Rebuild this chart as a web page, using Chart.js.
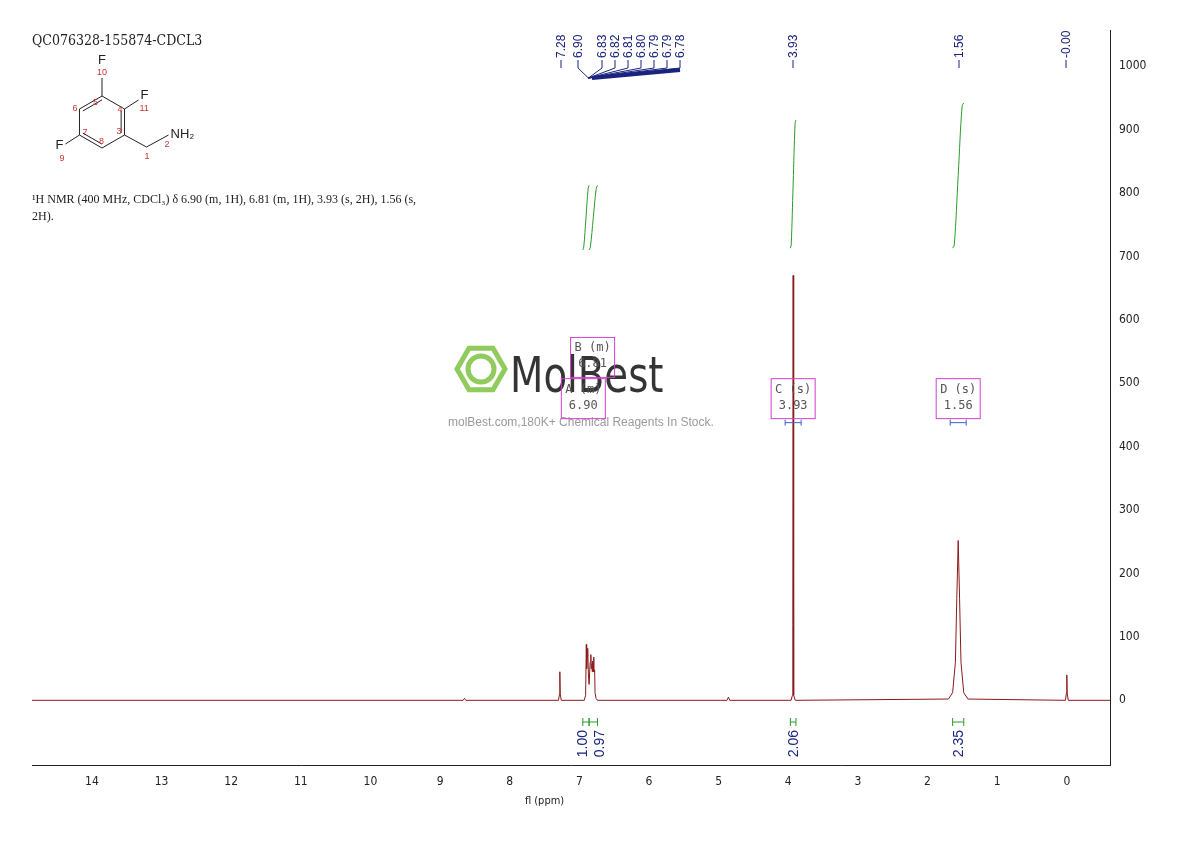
<!DOCTYPE html>
<html><head><meta charset="utf-8">
<script src="https://cdn.jsdelivr.net/npm/chart.js@4.4.0/dist/chart.umd.min.js"></script>
<style>body{margin:0;background:#fff}canvas{display:block}</style>
</head><body>
<canvas id="c" width="1190" height="841"></canvas>
<script>
// spectrum points (ppm, intensity)
const spectrumPpm = [14.86, 8.67, 8.65, 8.63, 7.30, 7.285, 7.28, 7.275, 7.26, 6.93, 6.91, 6.90, 6.895, 6.885, 6.88, 6.87, 6.86, 6.845, 6.835, 6.83, 6.82, 6.815, 6.81, 6.80, 6.795, 6.79, 6.78, 6.775, 6.76, 6.74, 4.88, 4.86, 4.84, 3.96, 3.94, 3.935, 3.93, 3.925, 3.92, 3.90, 1.70, 1.64, 1.60, 1.58, 1.56, 1.54, 1.52, 1.48, 1.42, 0.02, 0.005, 0.0, -0.005, -0.02, -0.62];
const spectrumInt = [0, 0, 3, 0, 0, 10, 45, 10, 0, 0, 8, 88, 50, 70, 82, 40, 25, 60, 72, 50, 58, 45, 62, 55, 68, 45, 48, 12, 3, 0, 0, 5, 0, 0, 8, 120, 670, 120, 8, 0, 2, 12, 60, 160, 252, 160, 60, 12, 2, 0, 12, 40, 12, 0, 0];
const topLabels = ['7.28', '6.90', '6.83', '6.82', '6.81', '6.80', '6.79', '6.79', '6.78', '3.93', '1.56', '-0.00'];
const integrals = [
  {ppm: [6.95, 6.86], y0: 710, y1: 812, label: '1.00'},
  {ppm: [6.86, 6.74], y0: 710, y1: 812, label: '0.97'},
  {ppm: [3.97, 3.89], y0: 713, y1: 915, label: '2.06'},
  {ppm: [1.64, 1.48], y0: 713, y1: 942, label: '2.35'}
];
const multiplets = [
  {ppm: 6.81, name: 'B (m)', val: '6.81', y: 506},
  {ppm: 6.90, name: 'A (m)', val: '6.90', y: 441},
  {ppm: 3.93, name: 'C (s)', val: '3.93', y: 441},
  {ppm: 1.56, name: 'D (s)', val: '1.56', y: 441}
];
const xTicks = [0, 1, 2, 3, 4, 5, 6, 7, 8, 9, 10, 11, 12, 13, 14];
const yTicks = [0, 100, 200, 300, 400, 500, 600, 700, 800, 900, 1000];

const spectrum = spectrumPpm.map((p, i) => ({x: p, y: spectrumInt[i]}));
const intDatasets = integrals.map(g => ({
  data: [{x: g.ppm[0], y: g.y0}, {x: g.ppm[0] - (g.ppm[0]-g.ppm[1])*0.15, y: g.y0 + 5}, {x: (g.ppm[0]+g.ppm[1])/2, y: (g.y0+g.y1)/2}, {x: g.ppm[1] + (g.ppm[0]-g.ppm[1])*0.15, y: g.y1 - 5}, {x: g.ppm[1], y: g.y1}],
  borderColor: '#2a9a2a', borderWidth: 1, pointRadius: 0, tension: 0.4
}));

const deco = {
  id: 'deco',
  afterDraw(chart) {
    const ctx = chart.ctx, xs = chart.scales.x, ys = chart.scales.y;
    ctx.save();
    // header text
    ctx.fillStyle = '#222';
    ctx.font = '14px "DejaVu Serif Condensed", serif';
    ctx.fillText('QC076328-155874-CDCL3', 32, 45);
    ctx.font = '12px "Liberation Serif", serif';
    ctx.fillText('\u00B9H NMR (400 MHz, CDCl\u2083) \u03B4 6.90 (m, 1H), 6.81 (m, 1H), 3.93 (s, 2H), 1.56 (s,', 32, 203);
    ctx.fillText('2H).', 32, 220);
    // structure
    const cx = 102, cy = 122, r = 26;
    const pts = [];
    for (let k = 0; k < 6; k++) { const a = Math.PI/180*(90 + 60*k); pts.push([cx + r*Math.cos(a), cy - r*Math.sin(a)]); }
    ctx.strokeStyle = '#222'; ctx.lineWidth = 1;
    ctx.beginPath(); pts.forEach((p, k) => k ? ctx.lineTo(p[0], p[1]) : ctx.moveTo(p[0], p[1])); ctx.closePath(); ctx.stroke();
    ctx.beginPath();
    [[0,1],[2,3],[4,5]].forEach(([a,b]) => { const f=0.15; const ax=pts[a][0]+(cx-pts[a][0])*f, ay=pts[a][1]+(cy-pts[a][1])*f, bx=pts[b][0]+(cx-pts[b][0])*f, by=pts[b][1]+(cy-pts[b][1])*f; ctx.moveTo(ax,ay); ctx.lineTo(bx,by); });
    ctx.moveTo(pts[0][0], pts[0][1]); ctx.lineTo(pts[0][0], pts[0][1]-18);
    ctx.moveTo(pts[5][0], pts[5][1]); ctx.lineTo(pts[5][0]+14, pts[5][1]-9);
    ctx.moveTo(pts[2][0], pts[2][1]); ctx.lineTo(pts[2][0]-14, pts[2][1]+9);
    ctx.moveTo(pts[4][0], pts[4][1]); ctx.lineTo(pts[4][0]+22, pts[4][1]+12); ctx.lineTo(pts[4][0]+44, pts[4][1]);
    ctx.stroke();
    ctx.font = '13px sans-serif'; ctx.fillStyle = '#222';
    ctx.fillText('F', pts[0][0]-4, pts[0][1]-32);
    ctx.fillText('F', pts[5][0]+16, pts[5][1]-10);
    ctx.fillText('F', pts[2][0]-24, pts[2][1]+14);
    ctx.fillText('NH\u2082', pts[4][0]+46, pts[4][1]+3);
    ctx.fillStyle = '#c33'; ctx.font = '9px sans-serif';
    ctx.fillText('10', pts[0][0]-5, pts[0][1]-21);
    ctx.fillText('11', pts[5][0]+15, pts[5][1]+2);
    ctx.fillText('9', pts[2][0]-20, pts[2][1]+26);
    ctx.fillText('5', pts[0][0]-9, pts[0][1]+9);
    ctx.fillText('4', pts[5][0]-7, pts[5][1]+3);
    ctx.fillText('3', pts[4][0]-8, pts[4][1]-1);
    ctx.fillText('8', pts[3][0]-3, pts[3][1]-4);
    ctx.fillText('7', pts[2][0]+3, pts[2][1]);
    ctx.fillText('6', pts[1][0]-7, pts[1][1]+2);
    ctx.fillText('1', pts[4][0]+20, pts[4][1]+24);
    ctx.fillText('2', pts[4][0]+40, pts[4][1]+12);
    // watermark
    ctx.globalAlpha = 0.85;
    ctx.strokeStyle = '#7cc242'; ctx.lineWidth = 5;
    ctx.beginPath();
    for (let k = 0; k < 6; k++) { const a = Math.PI/3*k; const px = 481 + 24*Math.cos(a), py = 369 + 24*Math.sin(a); k ? ctx.lineTo(px, py) : ctx.moveTo(px, py); }
    ctx.closePath(); ctx.stroke();
    ctx.beginPath(); ctx.arc(481, 369, 13, 0, Math.PI*2); ctx.stroke();
    ctx.fillStyle = '#111'; ctx.font = '50px "DejaVu Sans Condensed", sans-serif';
    ctx.save(); ctx.translate(510, 392); ctx.scale(0.86, 1); ctx.fillText('MolBest', 0, 0); ctx.restore();
    ctx.fillStyle = '#888'; ctx.font = '12px "Liberation Sans", sans-serif';
    ctx.fillText('molBest.com,180K+ Chemical Reagents In Stock.', 448, 426);
    ctx.globalAlpha = 1;
    // peak labels on top
    ctx.fillStyle = '#1a237e'; ctx.strokeStyle = '#1a237e'; ctx.lineWidth = 1;
    ctx.font = '12px "Liberation Sans", sans-serif';
    const labelX = [561, 578, 602, 615, 628, 641, 654, 667, 680, 793, 959, 1066];
    topLabels.forEach((t, k) => {
      const lx = labelX[k];
      ctx.save(); ctx.translate(lx + 4, 58); ctx.rotate(-Math.PI/2);
      ctx.textAlign = 'left'; ctx.fillText(t, 0, 0); ctx.restore();
      ctx.beginPath(); ctx.moveTo(lx, 60); ctx.lineTo(lx, 68);
      if (k >= 1 && k <= 8) ctx.lineTo(xs.getPixelForValue(6.87), 78);
      ctx.stroke();
    });
    ctx.lineWidth = 4; ctx.beginPath(); ctx.moveTo(592, 78); ctx.lineTo(680, 70); ctx.stroke(); ctx.lineWidth = 1;
    // integration marks and labels
    integrals.forEach(g => {
      const a = xs.getPixelForValue(g.ppm[0]), b = xs.getPixelForValue(g.ppm[1]);
      ctx.strokeStyle = '#2a9a2a';
      ctx.beginPath(); ctx.moveTo(a, 722); ctx.lineTo(b, 722); ctx.moveTo(a, 718); ctx.lineTo(a, 726); ctx.moveTo(b, 718); ctx.lineTo(b, 726); ctx.stroke();
      ctx.fillStyle = '#1a237e'; ctx.font = '14px "Liberation Sans", sans-serif';
      const mid = (a + b) / 2 + (g.label === '1.00' ? -4 : g.label === '0.97' ? 6 : 0);
      ctx.save(); ctx.translate(mid + 5, 730); ctx.rotate(-Math.PI/2); ctx.textAlign = 'right'; ctx.fillText(g.label, 0, 0); ctx.restore();
    });
    // multiplet boxes
    ctx.font = '12px "DejaVu Sans Mono", monospace'; ctx.textAlign = 'center';
    multiplets.forEach(m => {
      const px = xs.getPixelForValue(m.ppm) - (m.name[0] === 'A' ? 3 : 0);
      const py = ys.getPixelForValue(m.y);
      ctx.strokeStyle = '#d040d0'; ctx.strokeRect(px - 22, py - 42, 44, 40);
      ctx.fillStyle = '#555';
      ctx.fillText(m.name, px, py - 28); ctx.fillText(m.val, px, py - 12);
      if (m.name[0] !== 'A' && m.name[0] !== 'B') {
        ctx.strokeStyle = '#3a5fcd'; ctx.beginPath();
        ctx.moveTo(px - 8, py + 2); ctx.lineTo(px + 8, py + 2); ctx.moveTo(px - 8, py - 1); ctx.lineTo(px - 8, py + 5); ctx.moveTo(px + 8, py - 1); ctx.lineTo(px + 8, py + 5); ctx.stroke();
      }
    });
    // x axis title
    ctx.fillStyle = '#222'; ctx.font = '11px "DejaVu Sans Condensed", sans-serif'; ctx.textAlign = 'center';
    ctx.fillText('fl (ppm)', xs.getPixelForValue(7.5), 804);
    ctx.restore();
  }
};

new Chart(document.getElementById('c'), {
  type: 'line',
  data: { datasets: [
    { data: spectrum, borderColor: '#8b1a1a', borderWidth: 1, pointRadius: 0, tension: 0 },
    ...intDatasets
  ]},
  options: {
    responsive: false, animation: false,
    layout: { padding: { left: 32, top: 30, right: 0, bottom: 0 } },
    plugins: { legend: { display: false }, tooltip: { enabled: false } },
    scales: {
      x: {
        type: 'linear', reverse: true, min: -0.62, max: 14.86,
        afterBuildTicks: s => { s.ticks = xTicks.map(v => ({value: v})); },
        afterFit: s => { s.height = 76; },
        grid: { display: false, drawTicks: true, tickLength: 6, tickColor: '#222' },
        border: { color: '#222' },
        ticks: { color: '#222', font: { size: 12, family: '"DejaVu Sans Condensed", sans-serif' }, padding: 4, maxRotation: 0 }
      },
      y: {
        position: 'right', min: -102, max: 1057,
        afterBuildTicks: s => { s.ticks = yTicks.map(v => ({value: v})); },
        afterFit: s => { s.width = 80; },
        grid: { display: false, drawTicks: true, tickLength: 6, tickColor: '#222' },
        border: { color: '#222' },
        ticks: { color: '#222', font: { size: 12, family: '"DejaVu Sans Condensed", sans-serif' }, padding: 3, callback: v => String(v) }
      }
    }
  },
  plugins: [deco]
});
</script>
</body></html>
